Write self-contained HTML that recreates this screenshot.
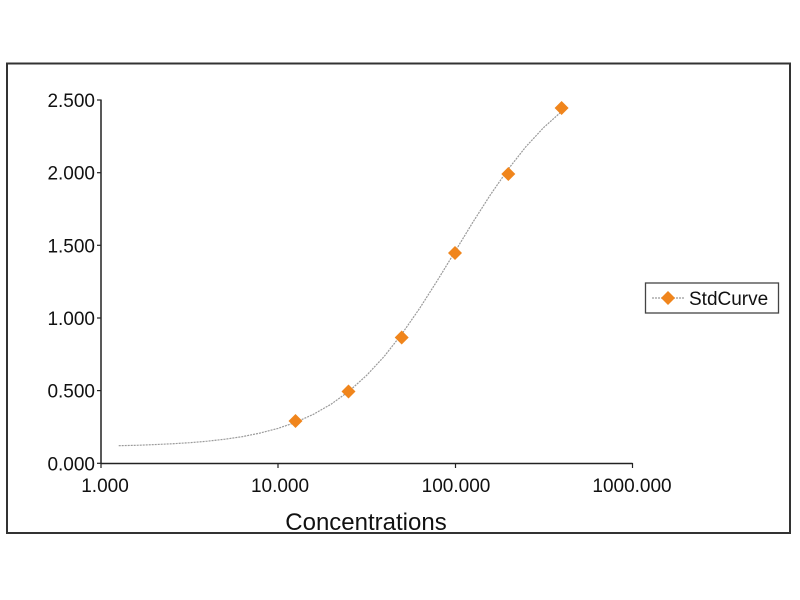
<!DOCTYPE html>
<html><head><meta charset="utf-8"><style>
html,body{margin:0;padding:0;background:#fff;}
svg{display:block;}
text{font-family:"Liberation Sans",Arial,sans-serif;fill:#111;}
</style></head><body>
<svg width="800" height="600" viewBox="0 0 800 600" xmlns="http://www.w3.org/2000/svg">
<rect x="0" y="0" width="800" height="600" fill="#fff"/>
<rect x="7" y="63.5" width="783" height="469.5" fill="none" stroke="#333" stroke-width="2"/>
<!-- axes -->
<line x1="101" y1="99.5" x2="101" y2="463.5" stroke="#222" stroke-width="1.5"/>
<line x1="101" y1="463.5" x2="632.5" y2="463.5" stroke="#222" stroke-width="1.5"/>
<!-- y ticks -->
<g stroke="#222" stroke-width="1.2">
<line x1="97" y1="100" x2="101" y2="100"/>
<line x1="97" y1="172.7" x2="101" y2="172.7"/>
<line x1="97" y1="245.3" x2="101" y2="245.3"/>
<line x1="97" y1="318" x2="101" y2="318"/>
<line x1="97" y1="390.6" x2="101" y2="390.6"/>
<line x1="97" y1="463.3" x2="101" y2="463.3"/>
<line x1="101" y1="463" x2="101" y2="468"/>
<line x1="278" y1="463" x2="278" y2="468"/>
<line x1="455.5" y1="463" x2="455.5" y2="468"/>
<line x1="632.5" y1="463" x2="632.5" y2="468"/>
</g>
<g font-size="19" text-anchor="end">
<text x="95" y="107">2.500</text>
<text x="95" y="179.7">2.000</text>
<text x="95" y="252.3">1.500</text>
<text x="95" y="325">1.000</text>
<text x="95" y="397.6">0.500</text>
<text x="95" y="470.3">0.000</text>
</g>
<g font-size="19" text-anchor="middle">
<text x="105" y="492">1.000</text>
<text x="280" y="492">10.000</text>
<text x="456" y="492">100.000</text>
<text x="632" y="492">1000.000</text>
</g>
<text x="366" y="530" font-size="24" text-anchor="middle">Concentrations</text>
<!-- curve -->
<polyline fill="none" stroke="#9a9a9a" stroke-width="1.2" stroke-dasharray="2,1"
points="118.7,445.7 136.4,445.3 154.1,444.6 171.8,443.8 189.5,442.7 207.2,441.2 224.9,439.2 242.6,436.6 260.3,433.0 278,428.4 295.7,422.3 313.4,414.3 331.1,404.2 348.8,391.4 366.5,375.5 384.2,356.4 401.9,333.9 419.6,308.4 437.3,280.6 455,251.6 472.7,222.5 490.4,194.8 508.1,169.3 525.8,146.8 543.5,127.7 561.2,111.8"/>
<!-- markers -->
<g fill="#f0851c">
<path d="M295.5,414 L302.5,421 L295.5,428 L288.5,421 Z"/>
<path d="M348.5,384.5 L355.5,391.5 L348.5,398.5 L341.5,391.5 Z"/>
<path d="M401.7,330.5 L408.7,337.5 L401.7,344.5 L394.7,337.5 Z"/>
<path d="M455,246 L462,253 L455,260 L448,253 Z"/>
<path d="M508.3,167 L515.3,174 L508.3,181 L501.3,174 Z"/>
<path d="M561.6,101 L568.6,108 L561.6,115 L554.6,108 Z"/>
</g>
<!-- legend -->
<rect x="645.5" y="283" width="133" height="30" fill="#fff" stroke="#444" stroke-width="1.3"/>
<line x1="652" y1="298" x2="684" y2="298" stroke="#9a9a9a" stroke-width="1.2" stroke-dasharray="2,1"/>
<path d="M668,291 L675,298 L668,305 L661,298 Z" fill="#f0851c"/>
<text x="689" y="305" font-size="19">StdCurve</text>
</svg>
</body></html>
